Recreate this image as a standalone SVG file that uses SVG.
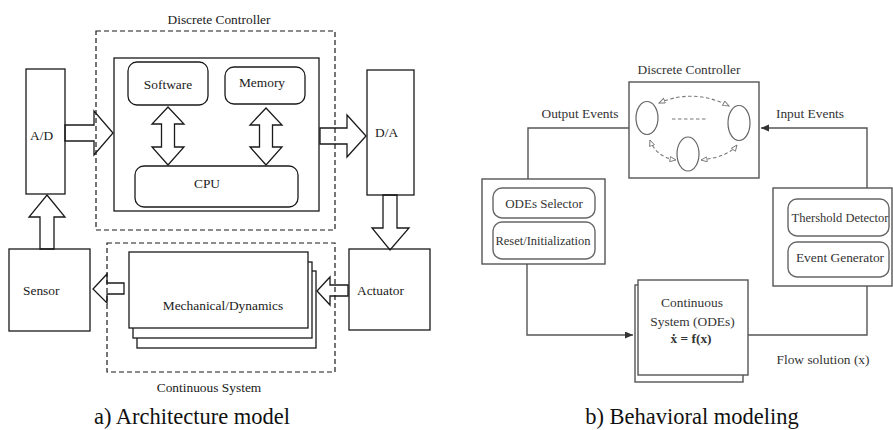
<svg xmlns="http://www.w3.org/2000/svg" width="893" height="430" viewBox="0 0 893 430" font-family="'Liberation Serif', 'Times New Roman', 'DejaVu Serif', serif">
<defs>
<style>
text{font-family:'Liberation Serif','Times New Roman','DejaVu Serif',serif;font-size:13.4px;fill:#1a1a1a}
.c{text-anchor:middle}
.cap{font-size:22.5px;fill:#111}
.r text,.r{fill:#333}
.blk{fill:#fff;stroke:#1a1a1a;stroke-width:1.3}
.dash{fill:none;stroke:#1a1a1a;stroke-width:1.2;stroke-dasharray:5,3}
.bar{fill:none;stroke:#1a1a1a;stroke-width:1.3;stroke-linejoin:miter}
.g{fill:#fff;stroke:#555;stroke-width:1.4}
.gr{fill:#fff;stroke:#666;stroke-width:1.4}
.ln{fill:none;stroke:#555;stroke-width:1.4}
.sd{fill:none;stroke:#777;stroke-width:1.1;stroke-dasharray:3.5,2.5}
</style>
<marker id="fa" markerUnits="userSpaceOnUse" markerWidth="9" markerHeight="8" refX="8" refY="3.5" orient="auto"><path d="M0,0 L8,3.5 L0,7 z" fill="#333"/></marker>
<marker id="oa" markerUnits="userSpaceOnUse" markerWidth="9" markerHeight="8" refX="6.5" refY="3" orient="auto-start-reverse"><path d="M0.5,0.5 L6.5,3 L0.5,5.5 z" fill="#fff" stroke="#777" stroke-width="0.9"/></marker>
</defs>
<rect width="893" height="430" fill="#fff"/>

<!-- ===== a) Architecture model ===== -->
<g id="connectors-a">
<polygon class="bar" points="65,125 94,125 94,111 113,133 94,155 94,141 65,141"/>
<polygon class="bar" points="320,128 347,128 347,115 366,136 347,157 347,144 320,144"/>
<polygon class="bar" points="168,107 184,124 174.5,124 174.5,147 184,147 168,165 152,147 161.5,147 161.5,124 152,124"/>
<polygon class="bar" points="266,108 282,125 272.5,125 272.5,147 282,147 266,165 250,147 259.5,147 259.5,125 250,125"/>
<polygon class="bar" points="47,195 65,217 54,217 54,249 40,249 40,217 29,217"/>
<polygon class="bar" points="383,195 397,195 397,228 409,228 390,250 372,228 383,228"/>
<polygon class="bar" points="124,283 107,283 107,274 93,289 107,303 107,294 124,294"/>
<polygon class="bar" points="348,285 330,285 330,277 317,291 330,305 330,296 348,296"/>
</g>
<g id="discrete-controller-a">
<rect class="dash" x="96" y="31" width="239" height="199"/>
<text class="c" x="219" y="24">Discrete Controller</text>
<rect class="bar" x="114" y="58" width="205" height="153"/>
</g>
<g id="software"><rect class="bar" x="128" y="62" width="80" height="43" rx="9"/><text class="c" x="168" y="88.5">Software</text></g>
<g id="memory"><rect class="bar" x="225" y="67" width="80" height="37" rx="9"/><text class="c" x="262" y="86.5">Memory</text></g>
<g id="cpu"><rect class="bar" x="135" y="166" width="163" height="41" rx="9"/><text class="c" x="207" y="188">CPU</text></g>
<g id="ad"><rect class="bar" x="26" y="69" width="39" height="125"/><text x="30" y="140">A/D</text></g>
<g id="da"><rect class="bar" x="367" y="70" width="47" height="125"/><text x="375" y="137">D/A</text></g>
<g id="sensor"><rect class="bar" x="9" y="249" width="81" height="82"/><text x="23" y="295">Sensor</text></g>
<g id="actuator"><rect class="bar" x="349" y="249" width="81" height="81"/><text x="357" y="295">Actuator</text></g>
<g id="continuous-system-a">
<rect class="dash" x="107" y="243" width="228" height="129"/>
<text class="c" x="209" y="392">Continuous System</text>
</g>
<g id="mechanical">
<rect class="blk" x="137" y="271" width="179" height="77"/>
<rect class="blk" x="133" y="262" width="179" height="76"/>
<rect class="blk" x="129" y="252" width="179" height="76"/>
<text class="c" x="223" y="310">Mechanical/Dynamics</text>
</g>
<text class="c cap" x="192" y="424">a) Architecture model</text>

<!-- ===== b) Behavioral modeling ===== -->
<g id="connectors-b">
<polyline class="ln" points="629,128 528,128 528,179"/>
<polyline class="ln" points="867,188 867,128 761,128" marker-end="url(#fa)"/>
<polyline class="ln" points="527,264 527,335 633,335" marker-end="url(#fa)"/>
<polyline class="ln" points="748,335 867,335 867,286"/>
</g>
<g id="discrete-controller-b" class="r">
<text class="c" x="689" y="74">Discrete Controller</text>
<rect class="g" x="629" y="82" width="130" height="96"/>
<ellipse cx="647" cy="118" rx="11" ry="16.5" fill="none" stroke="#666" stroke-width="1.2"/>
<ellipse cx="739" cy="123" rx="11" ry="17.5" fill="none" stroke="#666" stroke-width="1.2"/>
<ellipse cx="688" cy="154" rx="11" ry="17" fill="none" stroke="#666" stroke-width="1.2"/>
<line class="sd" x1="672" y1="119" x2="707" y2="119"/>
<path class="sd" d="M659,103 Q694,88 729,106" marker-start="url(#oa)" marker-end="url(#oa)"/>
<path class="sd" d="M650,140 Q656,157 676,160" marker-start="url(#oa)" marker-end="url(#oa)"/>
<path class="sd" d="M701,160 Q728,157 737,145" marker-start="url(#oa)" marker-end="url(#oa)"/>
</g>
<text class="c r" x="580" y="118">Output Events</text>
<text class="c r" x="810" y="118">Input Events</text>
<g id="ode-box" class="r">
<rect class="g" x="482" y="179" width="123" height="85"/>
<rect class="gr" x="493" y="188" width="102" height="30" rx="9"/>
<text class="c" x="544" y="208" style="font-size:13px">ODEs Selector</text>
<rect class="gr" x="493" y="222" width="102" height="37" rx="9"/>
<text class="c" x="543" y="245" style="font-size:12.8px" textLength="95" lengthAdjust="spacingAndGlyphs">Reset/Initialization</text>
</g>
<g id="event-box" class="r">
<rect class="g" x="773" y="188" width="119" height="98"/>
<rect class="gr" x="788" y="199" width="101" height="37" rx="9"/>
<text class="c" x="840" y="222" style="font-size:13px" textLength="97" lengthAdjust="spacingAndGlyphs">Thershold Detector</text>
<rect class="gr" x="788" y="242" width="101" height="35" rx="9"/>
<text class="c" x="840" y="262">Event Generator</text>
</g>
<g id="continuous-system-b" class="r">
<rect class="g" x="635" y="285" width="108" height="97"/>
<rect class="g" x="638" y="280" width="110" height="95"/>
<text class="c" x="692" y="307">Continuous</text>
<text class="c" x="692.5" y="326">System (ODEs)</text>
<text class="c" x="691" y="343" style="font-weight:bold">ẋ = f(x)</text>
</g>
<text class="c r" x="823" y="364">Flow solution (x)</text>
<text class="c cap" x="692" y="424">b) Behavioral modeling</text>
</svg>
